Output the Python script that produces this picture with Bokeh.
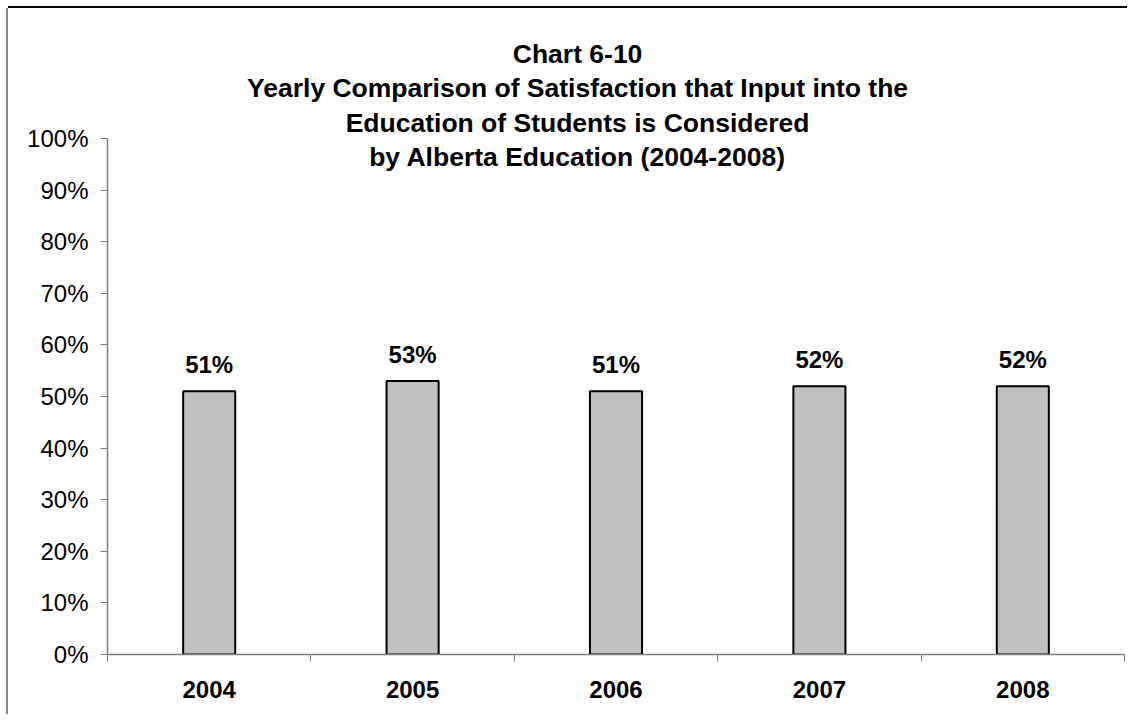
from bokeh.plotting import figure
from bokeh.layouts import column
from bokeh.models import (Range1d, FixedTicker, NumeralTickFormatter, ColumnDataSource,
                          LabelSet)
from bokeh.core.properties import value
from bokeh.embed import file_html
from bokeh.resources import INLINE

# ---- data ----
years = ["2004", "2005", "2006", "2007", "2008"]
satisfaction = [0.51, 0.53, 0.51, 0.52, 0.52]
title_lines = [
    "Chart 6-10",
    "Yearly Comparison of Satisfaction that Input into the",
    "Education of Students is Considered",
    "by Alberta Education (2004-2008)",
]
y_ticks = [0.0, 0.1, 0.2, 0.3, 0.4, 0.5, 0.6, 0.7, 0.8, 0.9, 1.0]

FONT = "Liberation Sans"

n = len(years)
centers = [i + 0.5 for i in range(n)]
bounds = [float(i) for i in range(n + 1)]

Y_TOP = 636 / 516  # room above 100% for the title block

p = figure(width=1119, height=706, output_backend="svg", toolbar_location=None,
           x_range=Range1d(0, n), y_range=Range1d(0, Y_TOP),
           min_border_left=99, min_border_right=3, min_border_top=10, min_border_bottom=60)
p.outline_line_color = None
p.xgrid.visible = False
p.ygrid.visible = False
p.background_fill_color = "white"
p.border_fill_color = "white"

src = ColumnDataSource(dict(x=centers, top=satisfaction,
                            lab=[f"{round(v * 100)}%" for v in satisfaction]))
p.vbar(x="x", top="top", width=0.256, source=src, fill_color="#C0C0C0",
       line_color="black", line_width=2)

labels = LabelSet(x="x", y="top", text="lab", source=src, y_offset=18,
                  text_align="center", text_baseline="alphabetic",
                  text_font=value(FONT), text_font_size="24px", text_font_style="bold",
                  text_color="black")
p.add_layout(labels)

# title block
tsrc = ColumnDataSource(dict(x=[2.311] * 4,
                             y=[1.1637, 1.0969, 1.0300, 0.9632],
                             t=title_lines))
p.text(x="x", y="y", text="t", source=tsrc, text_align="center",
       text_baseline="middle", text_font=value(FONT), text_font_size="26.5px",
       text_font_style="bold", text_color="black")

# x axis
xa = p.xaxis[0]
xa.ticker = FixedTicker(ticks=centers, minor_ticks=bounds)
xa.major_label_overrides = {c: y for c, y in zip(centers, years)}
xa.major_tick_line_color = None
xa.major_tick_out = 0
xa.major_tick_in = 0
xa.minor_tick_line_color = "#808080"
xa.minor_tick_out = 7
xa.minor_tick_in = 0
xa.axis_line_color = "#808080"
xa.axis_line_width = 1.5
xa.major_label_text_font = FONT
xa.major_label_text_font_size = "24px"
xa.major_label_text_font_style = "bold"
xa.major_label_text_color = "black"
xa.major_label_standoff = 19

# y axis
ya = p.yaxis[0]
ya.bounds = (0, 1.0)
ya.ticker = FixedTicker(ticks=y_ticks, minor_ticks=[])
ya.formatter = NumeralTickFormatter(format="0%")
ya.major_tick_line_color = "#808080"
ya.major_tick_out = 7
ya.major_tick_in = 0
ya.axis_line_color = "#808080"
ya.axis_line_width = 1.5
ya.major_label_text_font = FONT
ya.major_label_text_font_size = "24px"
ya.major_label_text_color = "black"
ya.major_label_standoff = 12

layout = column(p, styles={"margin-top": "8px", "margin-left": "8px", "overflow": "hidden",
                           "box-shadow": "0px -2px 0px 0px #000000, -2px 0px 0px 0px #888888"})

open("out.html", "w").write(file_html(layout, INLINE))
